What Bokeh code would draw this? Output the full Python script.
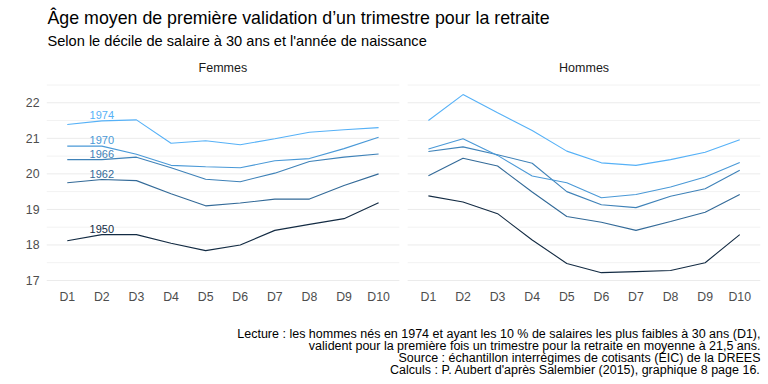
from bokeh.plotting import figure
from bokeh.models import (FactorRange, Range1d, FixedTicker, ColumnDataSource,
                          CategoricalAxis)
from bokeh.core.properties import value
from bokeh.embed import file_html
from bokeh.resources import INLINE

deciles = ["D1", "D2", "D3", "D4", "D5", "D6", "D7", "D8", "D9", "D10"]
panels = ["Femmes", "Hommes"]
years = [1950, 1962, 1966, 1970, 1974]
colors = ["#132B43", "#336A98", "#3F82B8", "#4A99D7", "#56B1F7"]

femmes_1950 = [18.12, 18.29, 18.29, 18.05, 17.84, 18.00, 18.41, 18.58, 18.74, 19.19]
femmes_1962 = [19.75, 19.84, 19.81, 19.44, 19.10, 19.18, 19.29, 19.29, 19.67, 20.00]
femmes_1966 = [20.40, 20.40, 20.47, 20.17, 19.85, 19.78, 20.02, 20.35, 20.47, 20.56]
femmes_1970 = [20.78, 20.78, 20.55, 20.24, 20.20, 20.17, 20.37, 20.43, 20.71, 21.03]
femmes_1974 = [21.39, 21.49, 21.52, 20.86, 20.93, 20.82, 20.99, 21.17, 21.24, 21.30]

hommes_1950 = [19.38, 19.21, 18.88, 18.14, 17.48, 17.22, 17.25, 17.28, 17.50, 18.29]
hommes_1962 = [19.95, 20.44, 20.22, 19.49, 18.80, 18.64, 18.41, 18.66, 18.92, 19.42]
hommes_1966 = [20.63, 20.76, 20.54, 20.30, 19.50, 19.13, 19.05, 19.37, 19.58, 20.10]
hommes_1970 = [20.70, 20.99, 20.52, 19.94, 19.75, 19.33, 19.42, 19.63, 19.91, 20.32]
hommes_1974 = [21.50, 22.23, 21.72, 21.22, 20.64, 20.31, 20.24, 20.40, 20.61, 20.96]

y_ticks = [17, 18, 19, 20, 21, 22]
y_minor = [17.5, 18.5, 19.5, 20.5, 21.5, 22.5]

title = "Âge moyen de première validation d’un trimestre pour la retraite"
subtitle = "Selon le décile de salaire à 30 ans et l'année de naissance"
caption = [
    "Lecture : les hommes nés en 1974 et ayant les 10 % de salaires les plus faibles à 30 ans (D1),",
    "valident pour la première fois un trimestre pour la retraite en moyenne à 21,5 ans.",
    "Source : échantillon interrégimes de cotisants (EIC) de la DREES",
    "Calculs : P. Aubert d'après Salembier (2015), graphique 8 page 16.",
]

series = {
    "Femmes": [femmes_1950, femmes_1962, femmes_1966, femmes_1970, femmes_1974],
    "Hommes": [hommes_1950, hommes_1962, hommes_1966, hommes_1970, hommes_1974],
}

FONT = "Liberation Sans"
PANEL_BOTTOM = 16.94

factors = [(pn, d) for pn in panels for d in deciles]
x_range = FactorRange(factors=factors, group_padding=0.44, range_padding=0.1,
                      range_padding_units="absolute")
# the frame covers the whole canvas height: titles and caption live inside it
y_range = Range1d(14.186, 24.878)

p = figure(width=762, height=380, x_range=x_range, y_range=y_range,
           output_backend="svg", toolbar_location=None, title=None,
           min_border_left=46, min_border_right=2, min_border_top=0, min_border_bottom=0,
           x_axis_location=None)
p.outline_line_color = None
p.xgrid.visible = False
p.ygrid.visible = False

# gridlines per panel
for pn in panels:
    for vals, col in ((y_minor, "#F2F2F2"), (y_ticks, "#EBEBEB")):
        src = ColumnDataSource(dict(
            x0=[(pn, deciles[0], -0.6)] * len(vals),
            x1=[(pn, deciles[-1], 0.6)] * len(vals),
            y=vals))
        p.segment(x0="x0", x1="x1", y0="y", y1="y", source=src,
                  line_color=col, line_width=1)

# lines
for pn in panels:
    for yr, col, vals in zip(years, colors, series[pn]):
        p.line(x=[(pn, d) for d in deciles], y=vals, line_color=col, line_width=1.1)

# year labels on Femmes panel at D2
lab_src = ColumnDataSource(dict(
    x=[("Femmes", deciles[1])] * len(years),
    y=[s[1] for s in series["Femmes"]],
    t=[str(y) for y in years],
    c=colors))
p.text(x="x", y="y", text="t", source=lab_src, text_color="c",
       text_font=value(FONT), text_font_size="11px", text_align="center",
       text_baseline="middle", y_offset=-6)

# strip labels
strip_src = ColumnDataSource(dict(x=[(pn, deciles[4], 0.5) for pn in panels],
                                  y=[22.99, 22.99], t=panels))
p.text(x="x", y="y", text="t", source=strip_src, text_color="#1A1A1A",
       text_font=value(FONT), text_font_size="12.5px", text_align="center",
       text_baseline="middle")

# x axis fixed at the bottom of the panels
xaxis = CategoricalAxis(fixed_location=PANEL_BOTTOM)
xaxis.axis_line_color = None
xaxis.major_tick_line_color = None
xaxis.minor_tick_line_color = None
xaxis.major_label_text_font = FONT
xaxis.major_label_text_font_size = "12.3px"
xaxis.major_label_text_color = "#4D4D4D"
xaxis.major_label_standoff = 1
xaxis.group_text_font_size = "0px"
xaxis.group_text_color = None
xaxis.separator_line_color = None
p.add_layout(xaxis, "below")

p.yaxis.ticker = FixedTicker(ticks=y_ticks)
p.yaxis.axis_line_color = None
p.yaxis.major_tick_line_color = None
p.yaxis.minor_tick_line_color = None
p.yaxis.major_label_text_font = FONT
p.yaxis.major_label_text_font_size = "12.3px"
p.yaxis.major_label_text_color = "#4D4D4D"
p.yaxis.major_label_standoff = 1

# title and subtitle: anchored to the top of the frame, offsets in pixels
left = ("Femmes", deciles[0], -0.6)
right = ("Hommes", deciles[-1], 0.6)
top = y_range.end
p.text(x=[left], y=[top], text=[title], x_offset=1, y_offset=17,
       text_font=value(FONT), text_font_size="17.8px", text_color="#000000",
       text_align="left", text_baseline="middle")
p.text(x=[left], y=[top], text=[subtitle], x_offset=1, y_offset=40.5,
       text_font=value(FONT), text_font_size="14.6px", text_color="#000000",
       text_align="left", text_baseline="middle")

# caption, right aligned
cap_src = ColumnDataSource(dict(x=[right] * len(caption), y=[top] * len(caption),
                                t=caption, off=[333 + 12 * i for i in range(len(caption))]))
p.text(x="x", y="y", text="t", y_offset="off", source=cap_src,
       text_font=value(FONT), text_font_size="12.5px", text_color="#000000",
       text_align="right", text_baseline="middle")

open("out.html", "w").write(file_html(p, INLINE))
